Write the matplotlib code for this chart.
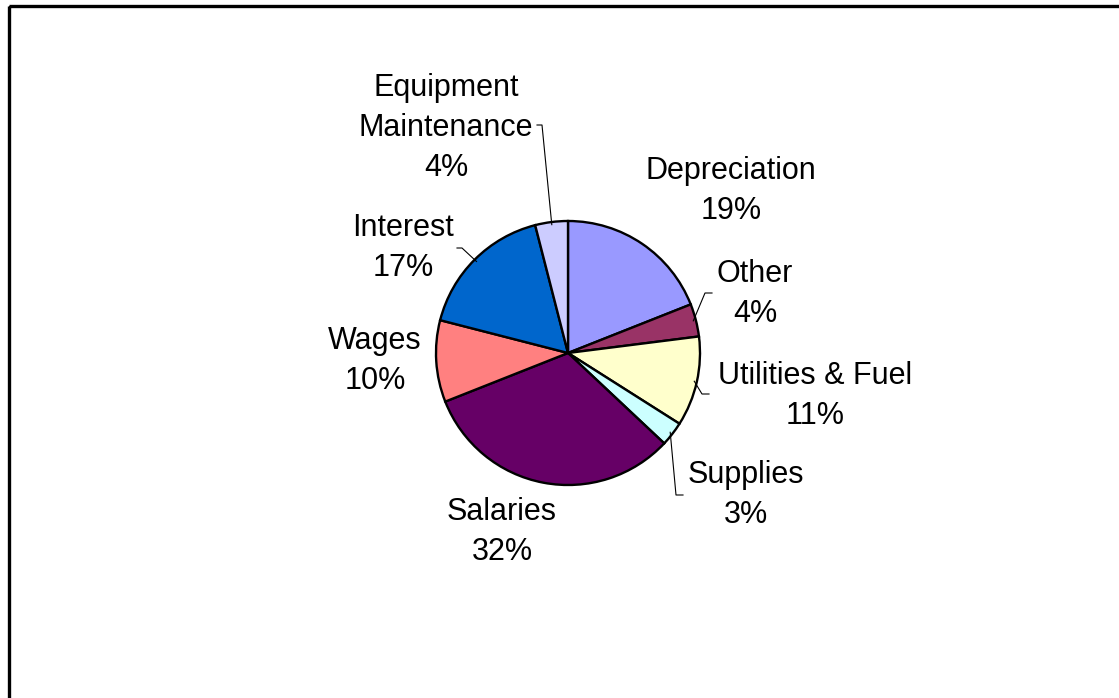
import numpy as np
import matplotlib.pyplot as plt
from matplotlib.patches import Rectangle

# slice data, clockwise from 12 o'clock
labels = ['Depreciation', 'Other', 'Utilities & Fuel', 'Supplies',
          'Salaries', 'Wages', 'Interest', 'Equipment\nMaintenance']
shares = [19, 4, 11, 3, 32, 10, 17, 4]
colors = ['#9999FF', '#993366', '#FFFFCC', '#CCFFFF',
          '#660066', '#FF8080', '#0066CC', '#CCCCFF']

# label centres (pixel coords of the figure)
label_pos = [(731, 191), (755, 294), (815, 396), (746, 495),
             (502, 532), (375, 361), (403, 248), (446, 128)]
# leader lines: elbow and end of each, None = no leader
leaders = [None, [(705, 293), (712, 293)], [(702, 394), (709, 394)],
           [(676, 495), (683, 495)], None, None,
           [(462, 248), (457, 248)], [(542, 125), (537, 125)]]

W, H = 1119, 698
cx, cy, R = 568, 353, 132

plt.rcParams['font.family'] = ['Liberation Sans', 'DejaVu Sans']
fig = plt.figure(figsize=(W / 100, H / 100), dpi=100)
ax = fig.add_axes([0, 0, 1, 1])

wedges, _ = ax.pie(shares, colors=colors, startangle=-90, counterclock=True,
                   center=(cx, cy), radius=R, frame=True,
                   wedgeprops=dict(edgecolor='black', linewidth=1.7))
ax.set_xlim(0, W)
ax.set_ylim(H, 0)
ax.set_aspect('equal')
ax.axis('off')

for w, lab, val, pos, ld in zip(wedges, labels, shares, label_pos, leaders):
    ax.text(pos[0], pos[1], f'{lab}\n{val}%', ha='center', va='center',
            fontsize=22, linespacing=1.45)
    if ld is not None:
        th = np.deg2rad((w.theta1 + w.theta2) / 2)
        px = cx + R * 0.98 * np.cos(th)
        py = cy + R * 0.98 * np.sin(th)
        ax.plot([px, ld[0][0], ld[1][0]], [py, ld[0][1], ld[1][1]],
                color='black', lw=0.8)

# chart area border (only top and left edges visible)
ax.add_patch(Rectangle((8.5, 5.5), W + 50, H + 50, fill=False,
                       edgecolor='black', lw=2.4, clip_on=False))

fig.savefig('out.png', dpi=100)
